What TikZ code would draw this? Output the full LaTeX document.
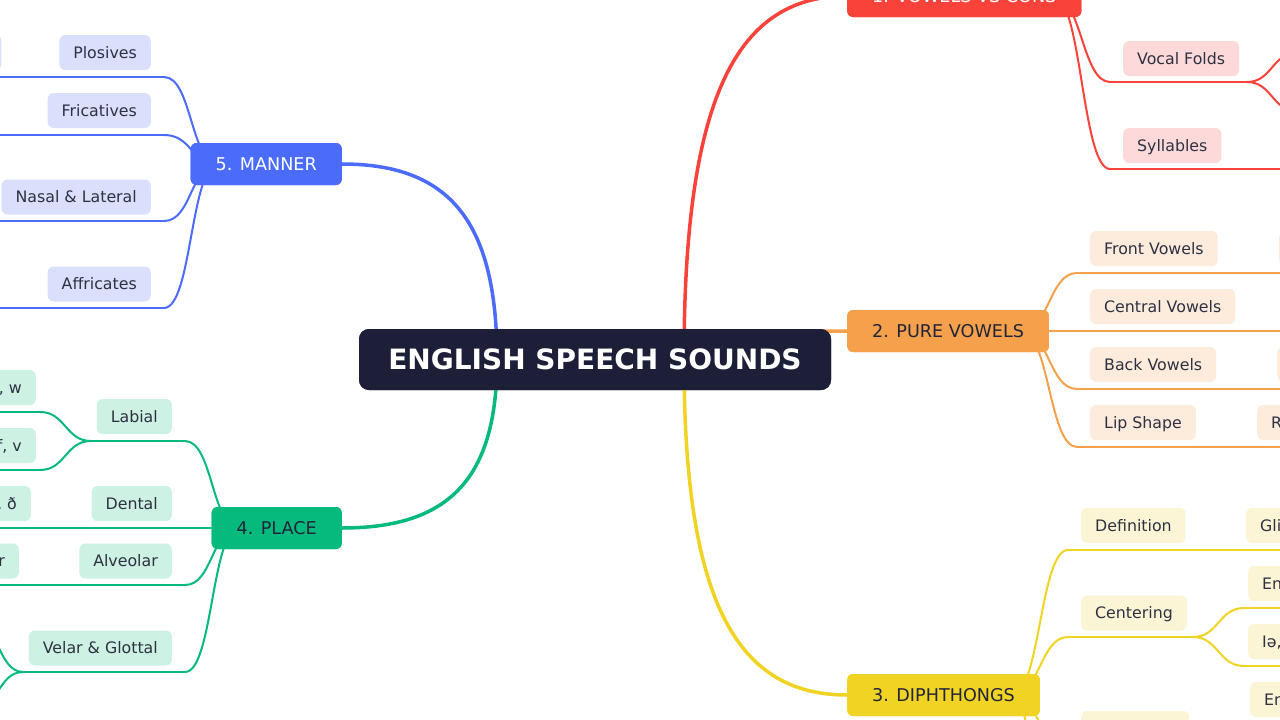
\documentclass[tikz,border=0pt]{standalone}
\usepackage{fontspec}
\setmainfont{DejaVu Sans}
\usetikzlibrary{calc}
\definecolor{rootc}{HTML}{1C1F37}
\definecolor{redc}{HTML}{F9423A}
\definecolor{redl}{HTML}{FDD9D9}
\definecolor{orac}{HTML}{F5A04B}
\definecolor{oral}{HTML}{FDEBDC}
\definecolor{yelc}{HTML}{F1D324}
\definecolor{yell}{HTML}{FCF5D5}
\definecolor{grnc}{HTML}{05BA7C}
\definecolor{grnl}{HTML}{CDF1E2}
\definecolor{bluc}{HTML}{4B6BFB}
\definecolor{blul}{HTML}{DAE0FC}
\definecolor{leaftxt}{HTML}{2E3142}
\definecolor{darktxt}{HTML}{22243A}
\newcommand\mmlink[4]{\draw[#1] (#2) .. controls ($(#2)+(#4,0)$) and ($(#3)-(#4,0)$) .. (#3);}
\newcommand\rlink[3]{\draw[#1] (#2) .. controls ($(#2)!0.7!(#2|-#3)$) and ($(#3)!0.7!(#2|-#3)$) .. (#3);}
\begin{document}
\begin{tikzpicture}[x=1pt,y=-1pt,
  rootbox/.style={rounded corners=10pt, fill=rootc, text=white, minimum width=472pt, minimum height=61pt, inner sep=0pt, font=\bfseries\fontsize{28}{32}\selectfont, text height=20.4pt, text depth=0pt},
  branch/.style={rounded corners=6pt, minimum height=42pt, inner xsep=25pt, inner ysep=0pt, font=\fontsize{17.6}{21}\selectfont, text height=12.9pt, text depth=0pt},
  leaf/.style={rounded corners=6pt, minimum height=35pt, inner xsep=14pt, inner ysep=0pt, font=\fontsize{15.8}{19}\selectfont, text=leaftxt, text height=11.6pt, text depth=0pt},
  rootlink/.style={line width=3.5pt, line cap=round},
  leaflink/.style={line width=2pt, line cap=round}]
\useasboundingbox (0,0) rectangle (1280,720);
\fill[white] (0,0) rectangle (1280,720);
\clip (0,0) rectangle (1280,720);

% ---------- nodes (positions) ----------
\node[rootbox] (root) at (595,359.5) {ENGLISH SPEECH SOUNDS};
\node[branch, fill=redc, text=white, anchor=west] (vc) at (847,-4) {1. VOWELS VS CONS};
\node[branch, fill=orac, text=darktxt, anchor=west] (pv) at (847,331) {2. PURE VOWELS};
\node[branch, fill=yelc, text=darktxt, anchor=west] (dp) at (847,695) {3. DIPHTHONGS};
\node[branch, fill=grnc, text=darktxt, anchor=east] (place) at (342,528) {4. PLACE};
\node[branch, fill=bluc, text=white, anchor=east] (manner) at (342,164) {5. MANNER};

% anchors of links
\coordinate (rootR) at ($(root.center)+(89,0)$);
\coordinate (rootL) at ($(root.center)+(-98,0)$);
\coordinate (Ma) at ($(manner.west)+(28,0)$);
\coordinate (Pa) at ($(place.west)+(28,0)$);
\coordinate (Ra) at ($(vc.east)+(-28,0)$);
\coordinate (Oa) at ($(pv.east)+(-28,0)$);
\coordinate (Ya) at ($(dp.east)+(-28,0)$);

% line coordinates
\coordinate (plo-s) at (164,77);  \coordinate (plo-e) at (-10,77);
\coordinate (fri-s) at (164,135); \coordinate (fri-e) at (-10,135);
\coordinate (nas-s) at (164,221); \coordinate (nas-e) at (-10,221);
\coordinate (aff-s) at (164,308); \coordinate (aff-e) at (-10,308);

\coordinate (lab-s) at (185,441); \coordinate (lab-e) at (91,441);
\coordinate (la1-s) at (40,412);  \coordinate (la1-e) at (-10,412);
\coordinate (la2-s) at (40,470);  \coordinate (la2-e) at (-10,470);
\coordinate (den-e) at (-10,528);
\coordinate (alv-s) at (185,585); \coordinate (alv-e) at (-10,585);
\coordinate (vel-s) at (185,672); \coordinate (vel-e) at (23,672);
\coordinate (ve1-s) at (-28,618); \coordinate (ve1-e) at (-60,618);
\coordinate (ve2-s) at (-28,712); \coordinate (ve2-e) at (-60,712);

\coordinate (voc-s) at (1110,82);  \coordinate (voc-e) at (1247,82);
\coordinate (vo1-s) at (1297,53);
\coordinate (vo2-s) at (1297,111);
\coordinate (syl-s) at (1110,169); \coordinate (syl-e) at (1290,169);

\coordinate (fro-s) at (1077,273); \coordinate (fro-e) at (1290,273);
\coordinate (cen-e) at (1290,331);
\coordinate (bac-s) at (1077,389); \coordinate (bac-e) at (1290,389);
\coordinate (lip-s) at (1077,447); \coordinate (lip-e) at (1290,447);

\coordinate (def-s) at (1068,550); \coordinate (def-e) at (1290,550);
\coordinate (cnt-s) at (1068,637); \coordinate (cnt-e) at (1193,637);
\coordinate (ce1-s) at (1244,608); \coordinate (ce1-e) at (1290,608);
\coordinate (ce2-s) at (1244,666); \coordinate (ce2-e) at (1290,666);
\coordinate (thr-s) at (1068,753); \coordinate (thr-e) at (1195,753);
\coordinate (th1-s) at (1245,724); \coordinate (th1-e) at (1290,724);
\coordinate (fou-s) at (1068,960);

% ---------- root links ----------
\rlink{rootlink, redc}{rootR}{vc.west}
\rlink{rootlink, orac}{rootR}{pv.west}
\rlink{rootlink, yelc}{rootR}{dp.west}
\rlink{rootlink, grnc}{rootL}{place.east}
\rlink{rootlink, bluc}{rootL}{manner.east}

% ---------- manner links ----------
\mmlink{leaflink, bluc}{Ma}{plo-s}{-28}
\mmlink{leaflink, bluc}{Ma}{fri-s}{-28}
\mmlink{leaflink, bluc}{Ma}{nas-s}{-28}
\mmlink{leaflink, bluc}{Ma}{aff-s}{-28}
\draw[leaflink, bluc] (plo-s) -- (plo-e);
\draw[leaflink, bluc] (fri-s) -- (fri-e);
\draw[leaflink, bluc] (nas-s) -- (nas-e);
\draw[leaflink, bluc] (aff-s) -- (aff-e);

% ---------- place links ----------
\mmlink{leaflink, grnc}{Pa}{lab-s}{-28}
\mmlink{leaflink, grnc}{Pa}{alv-s}{-28}
\mmlink{leaflink, grnc}{Pa}{vel-s}{-28}
\draw[leaflink, grnc] (lab-s) -- (lab-e);
\mmlink{leaflink, grnc}{lab-e}{la1-s}{-25.5}
\mmlink{leaflink, grnc}{lab-e}{la2-s}{-25.5}
\draw[leaflink, grnc] (la1-s) -- (la1-e);
\draw[leaflink, grnc] (la2-s) -- (la2-e);
\draw[leaflink, grnc] (Pa) -- (den-e);
\draw[leaflink, grnc] (alv-s) -- (alv-e);
\draw[leaflink, grnc] (vel-s) -- (vel-e);
\mmlink{leaflink, grnc}{vel-e}{ve1-s}{-25.5}
\mmlink{leaflink, grnc}{vel-e}{ve2-s}{-25.5}
\draw[leaflink, grnc] (ve1-s) -- (ve1-e);
\draw[leaflink, grnc] (ve2-s) -- (ve2-e);

% ---------- red links ----------
\mmlink{leaflink, redc}{Ra}{voc-s}{28}
\mmlink{leaflink, redc}{Ra}{syl-s}{28}
\draw[leaflink, redc] (voc-s) -- (voc-e);
\mmlink{leaflink, redc}{voc-e}{vo1-s}{25}
\mmlink{leaflink, redc}{voc-e}{vo2-s}{25}
\draw[leaflink, redc] (syl-s) -- (syl-e);

% ---------- orange links ----------
\mmlink{leaflink, orac}{Oa}{fro-s}{28}
\mmlink{leaflink, orac}{Oa}{bac-s}{28}
\mmlink{leaflink, orac}{Oa}{lip-s}{28}
\draw[leaflink, orac] (fro-s) -- (fro-e);
\draw[leaflink, orac] (Oa) -- (cen-e);
\draw[leaflink, orac] (bac-s) -- (bac-e);
\draw[leaflink, orac] (lip-s) -- (lip-e);

% ---------- yellow links ----------
\mmlink{leaflink, yelc}{Ya}{def-s}{28}
\mmlink{leaflink, yelc}{Ya}{cnt-s}{28}
\mmlink{leaflink, yelc}{Ya}{thr-s}{28}
\mmlink{leaflink, yelc}{Ya}{fou-s}{28}
\draw[leaflink, yelc] (def-s) -- (def-e);
\draw[leaflink, yelc] (cnt-s) -- (cnt-e);
\mmlink{leaflink, yelc}{cnt-e}{ce1-s}{25.5}
\mmlink{leaflink, yelc}{cnt-e}{ce2-s}{25.5}
\draw[leaflink, yelc] (ce1-s) -- (ce1-e);
\draw[leaflink, yelc] (ce2-s) -- (ce2-e);
\draw[leaflink, yelc] (thr-s) -- (thr-e);
\mmlink{leaflink, yelc}{thr-e}{th1-s}{25}
\draw[leaflink, yelc] (th1-s) -- (th1-e);

% ---------- redraw nodes on top ----------
\node[rootbox] at (root.center) {ENGLISH SPEECH SOUNDS};
\node[branch, fill=redc, text=white, anchor=west] at (vc.west) {1. VOWELS VS CONS};
\node[branch, fill=orac, text=darktxt, anchor=west] at (pv.west) {2. PURE VOWELS};
\node[branch, fill=yelc, text=darktxt, anchor=west] at (dp.west) {3. DIPHTHONGS};
\node[branch, fill=grnc, text=darktxt, anchor=east] at (place.east) {4. PLACE};
\node[branch, fill=bluc, text=white, anchor=east] at (manner.east) {5. MANNER};

% ---------- leaves: manner ----------
\node[leaf, fill=blul, anchor=east] (plo) at (151,52.5) {Plosives};
\node[leaf, fill=blul, anchor=east, minimum width=60pt] (plo1) at (1.5,52.5) {};
\node[leaf, fill=blul, anchor=east] (fri) at (151,110.5) {Fricatives};
\node[leaf, fill=blul, anchor=east] (nas) at (151,197) {Nasal \& Lateral};
\node[leaf, fill=blul, anchor=east] (aff) at (151,284) {Affricates};

% ---------- leaves: place ----------
\node[leaf, fill=grnl, anchor=east] (lab) at (172,416.5) {Labial};
\node[leaf, fill=grnl, anchor=east] (la1) at (36,387.5) {, w};
\node[leaf, fill=grnl, anchor=east] (la2) at (36,445.5) {f, v};
\node[leaf, fill=grnl, anchor=east] (den) at (172,503.5) {Dental};
\node[leaf, fill=grnl, anchor=east] (den1) at (31,503.5) {, ð};
\node[leaf, fill=grnl, anchor=east] (alv) at (172,561) {Alveolar};
\node[leaf, fill=grnl, anchor=east] (alv1) at (19,561) {r};
\node[leaf, fill=grnl, anchor=east] (vel) at (172,648) {Velar \& Glottal};

% ---------- leaves: vowels vs cons ----------
\node[leaf, fill=redl, anchor=west] (voc) at (1123,58.5) {Vocal Folds};
\node[leaf, fill=redl, anchor=west] (syl) at (1123,145.5) {Syllables};

% ---------- leaves: pure vowels ----------
\node[leaf, fill=oral, anchor=west] (fro) at (1090,248.5) {Front Vowels};
\node[leaf, fill=oral, anchor=west, minimum width=60pt] (fro1) at (1279,248.5) {};
\node[leaf, fill=oral, anchor=west] (cen) at (1090,306.5) {Central Vowels};
\node[leaf, fill=oral, anchor=west] (bac) at (1090,364.5) {Back Vowels};
\node[leaf, fill=oral, anchor=west, minimum width=60pt] (bac1) at (1277,364.5) {};
\node[leaf, fill=oral, anchor=west] (lip) at (1090,422.5) {Lip Shape};
\node[leaf, fill=oral, anchor=west] (lip1) at (1257,422.5) {R};

% ---------- leaves: diphthongs ----------
\node[leaf, fill=yell, anchor=west] (def) at (1081,525.5) {Definition};
\node[leaf, fill=yell, anchor=west] (def1) at (1246,525.5) {Gli};
\node[leaf, fill=yell, anchor=west] (cnt) at (1081,613) {Centering};
\node[leaf, fill=yell, anchor=west] (ce1) at (1248,583.5) {En};
\node[leaf, fill=yell, anchor=west] (ce2) at (1248,641.5) {Iə,};
\node[leaf, fill=yell, anchor=west, minimum width=108pt] (thr) at (1081,728.5) {};
\node[leaf, fill=yell, anchor=west] (th1) at (1250,699.5) {En};
\end{tikzpicture}
\end{document}
